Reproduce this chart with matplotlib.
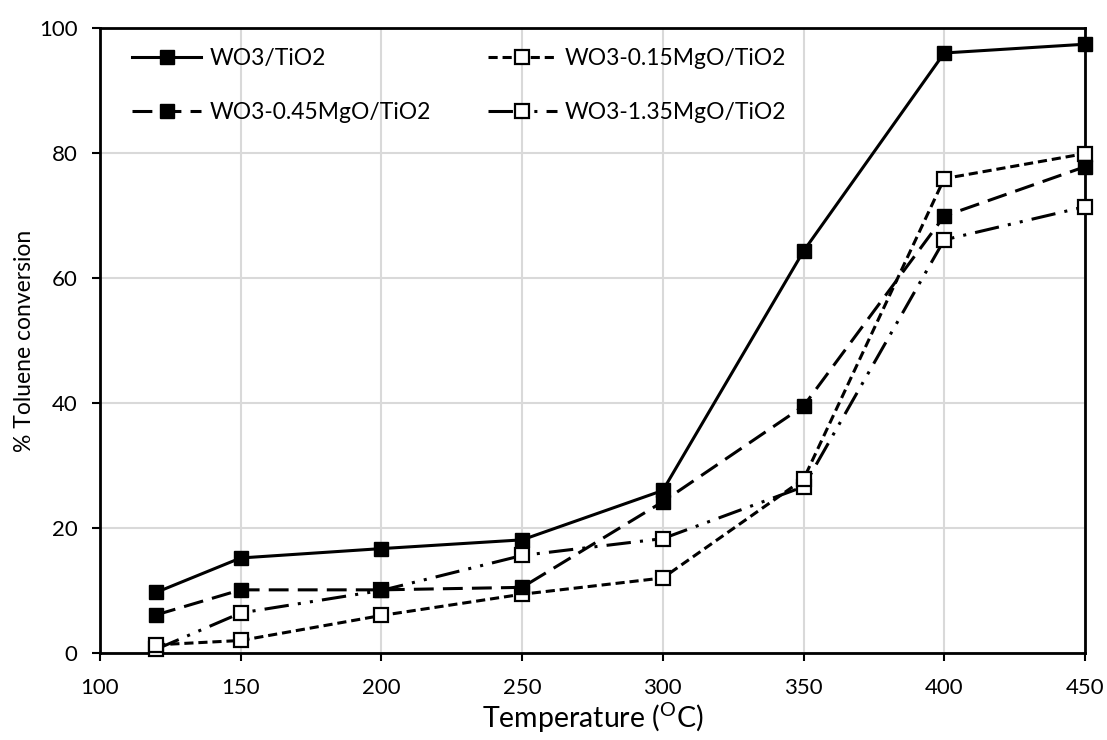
import matplotlib
matplotlib.use('Agg')
import matplotlib.pyplot as plt

plt.rcParams['font.family'] = ['Lato', 'DejaVu Sans']
plt.rcParams['mathtext.default'] = 'regular'

# data
temps = [120, 150, 200, 250, 300, 350, 400, 450]
wo3 = [9.7, 15.2, 16.7, 18.1, 26.0, 64.3, 96.0, 97.4]
mgo015 = [1.3, 2.0, 6.0, 9.4, 12.0, 27.8, 75.9, 79.9]
mgo045 = [6.1, 10.1, 10.1, 10.5, 24.2, 39.5, 69.9, 77.8]
mgo135 = [0.6, 6.4, 10.0, 15.6, 18.3, 26.6, 66.1, 71.4]

fig = plt.figure(figsize=(11.07, 7.4), dpi=100)
ax = fig.add_axes([0.0903, 0.1176, 0.8898, 0.8446])

ms = 10
l1, = ax.plot(temps, wo3, color='black', lw=2.2, marker='s', ms=ms, mfc='black',
              label='WO3/TiO2', clip_on=False, zorder=5)
l2, = ax.plot(temps, mgo015, color='black', lw=2.2, marker='s', ms=ms, mfc='white',
              mew=1.6, dashes=(3, 1.6), label='WO3-0.15MgO/TiO2', clip_on=False, zorder=4)
l3, = ax.plot(temps, mgo045, color='black', lw=2.2, marker='s', ms=ms, mfc='black',
              dashes=(6.5, 3), label='WO3-0.45MgO/TiO2', clip_on=False, zorder=4)
l4, = ax.plot(temps, mgo135, color='black', lw=2.2, marker='s', ms=ms, mfc='white',
              mew=1.6, dashes=(8, 3, 1, 3, 1, 3), label='WO3-1.35MgO/TiO2',
              clip_on=False, zorder=3)

ax.set_xlim(100, 450)
ax.set_ylim(0, 100)
ax.set_xticks(range(100, 451, 50))
ax.set_yticks(range(0, 101, 20))
ax.grid(True, color='#d9d9d9', lw=1.5)
ax.set_axisbelow(True)
for s in ax.spines.values():
    s.set_linewidth(2)
    s.set_color('black')
ax.tick_params(direction='out', length=6, width=1.5, labelsize=16)
ax.tick_params(axis='x', pad=12)
ax.tick_params(axis='y', pad=10)

ax.set_xlabel('Temperature ($^{O}$C)', fontsize=20.5, labelpad=2)
ax.set_ylabel('% Toluene conversion', fontsize=16.5, labelpad=3)

# column-wise fill: first column WO3/TiO2, 0.45; second column 0.15, 1.35
ax.legend([l1, l3, l2, l4], [l1.get_label(), l3.get_label(), l2.get_label(), l4.get_label()],
          ncol=2, loc='upper left', frameon=False, fontsize=16.5,
          handlelength=3.0, labelspacing=1.45, columnspacing=2.5,
          bbox_to_anchor=(0.012, 1.001), handletextpad=0.35)

fig.savefig('out.png', dpi=100)
